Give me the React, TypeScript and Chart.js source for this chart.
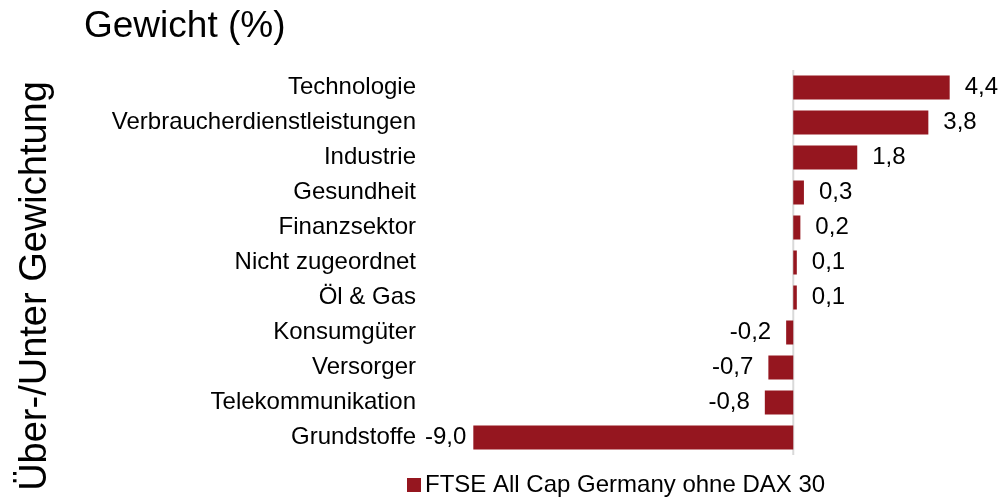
import React, { useEffect, useRef } from "react";
import { Chart, registerables } from "chart.js";

Chart.register(...registerables);

const categories = [
  "Technologie",
  "Verbraucherdienstleistungen",
  "Industrie",
  "Gesundheit",
  "Finanzsektor",
  "Nicht zugeordnet",
  "Öl & Gas",
  "Konsumgüter",
  "Versorger",
  "Telekommunikation",
  "Grundstoffe",
];
const weights = [4.4, 3.8, 1.8, 0.3, 0.2, 0.1, 0.1, -0.2, -0.7, -0.8, -9.0];
const seriesName = "FTSE All Cap Germany ohne DAX 30";
const chartTitle = "Gewicht (%)";
const axisTitle = "Über-/Unter Gewichtung";
const xMin = -10.5;
const xMax = 5.45;

const BAR_COLOR = "#95161F";
const FONT = "Liberation Sans, Arial, sans-serif";

const fmt = (v: number) => v.toFixed(1).replace(".", ",");

const decorPlugin = {
  id: "decor",
  beforeDatasetsDraw(chart: any) {
    const { ctx, chartArea, scales } = chart;
    const x0 = scales.x.getPixelForValue(0);
    ctx.save();
    ctx.strokeStyle = "#D9D9D9";
    ctx.lineWidth = 2;
    ctx.beginPath();
    ctx.moveTo(x0, chartArea.top);
    ctx.lineTo(x0, chartArea.bottom);
    ctx.stroke();
    ctx.restore();
  },
  afterDatasetsDraw(chart: any) {
    const { ctx, chartArea } = chart;
    const meta = chart.getDatasetMeta(0);
    const data = chart.data.datasets[0].data as number[];
    ctx.save();
    ctx.font = `24px ${FONT}`;
    ctx.fillStyle = "#000";
    ctx.textBaseline = "middle";
    meta.data.forEach((bar: any, i: number) => {
      const v = data[i];
      const txt = fmt(v);
      const gap = 15;
      ctx.textAlign = "left";
      if (v >= 0) {
        ctx.fillText(txt, bar.x + gap, bar.y);
      } else {
        const w = ctx.measureText(txt).width;
        let left = bar.x - gap - w;
        if (left < chartArea.left + 5) left = chartArea.left + 5;
        ctx.fillText(txt, left, bar.y);
      }
    });
    ctx.restore();
  },
  afterDraw(chart: any) {
    const { ctx } = chart;
    ctx.save();
    ctx.fillStyle = "#000";
    // Title
    ctx.font = `37px ${FONT}`;
    ctx.textAlign = "left";
    ctx.textBaseline = "alphabetic";
    ctx.fillText(chartTitle, 84, 37);
    // Rotated axis title
    ctx.save();
    ctx.font = `38px ${FONT}`;
    ctx.translate(46, 286);
    ctx.rotate(-Math.PI / 2);
    ctx.textAlign = "center";
    ctx.fillText(axisTitle, 0, 0);
    ctx.restore();
    // Legend
    ctx.fillStyle = BAR_COLOR;
    ctx.fillRect(407, 478, 14, 14);
    ctx.fillStyle = "#000";
    ctx.font = `24px ${FONT}`;
    ctx.textAlign = "left";
    ctx.fillText(chart.data.datasets[0].label, 425, 492);
    ctx.restore();
  },
};

export default function App() {
  const ref = useRef<HTMLCanvasElement | null>(null);

  useEffect(() => {
    document.body.style.margin = "0";
    const canvas = ref.current;
    if (!canvas) return;
    const chart = new Chart(canvas, {
      type: "bar",
      data: {
        labels: categories,
        datasets: [
          {
            label: seriesName,
            data: weights,
            backgroundColor: BAR_COLOR,
            borderWidth: 0,
            categoryPercentage: 1,
            barPercentage: 24 / 35,
          },
        ],
      },
      options: {
        indexAxis: "y",
        responsive: false,
        maintainAspectRatio: false,
        devicePixelRatio: 1,
        animation: false,
        layout: { padding: { top: 70, bottom: 44, right: 14, left: 0 } },
        plugins: {
          legend: { display: false },
          title: { display: false },
          tooltip: { enabled: false },
        },
        scales: {
          x: {
            type: "linear",
            min: xMin,
            max: xMax,
            display: false,
            grid: { display: false },
          },
          y: {
            grid: { display: false, drawTicks: false },
            border: { display: false },
            ticks: {
              color: "#000",
              padding: 4,
              font: { family: FONT, size: 24 },
            },
            afterFit(scale: any) {
              scale.width = 420;
            },
          },
        },
      },
      plugins: [decorPlugin],
    });
    return () => chart.destroy();
  }, []);

  return (
    <div style={{ width: 1001, height: 499 }}>
      <canvas ref={ref} width={1001} height={499} style={{ display: "block" }} />
    </div>
  );
}
